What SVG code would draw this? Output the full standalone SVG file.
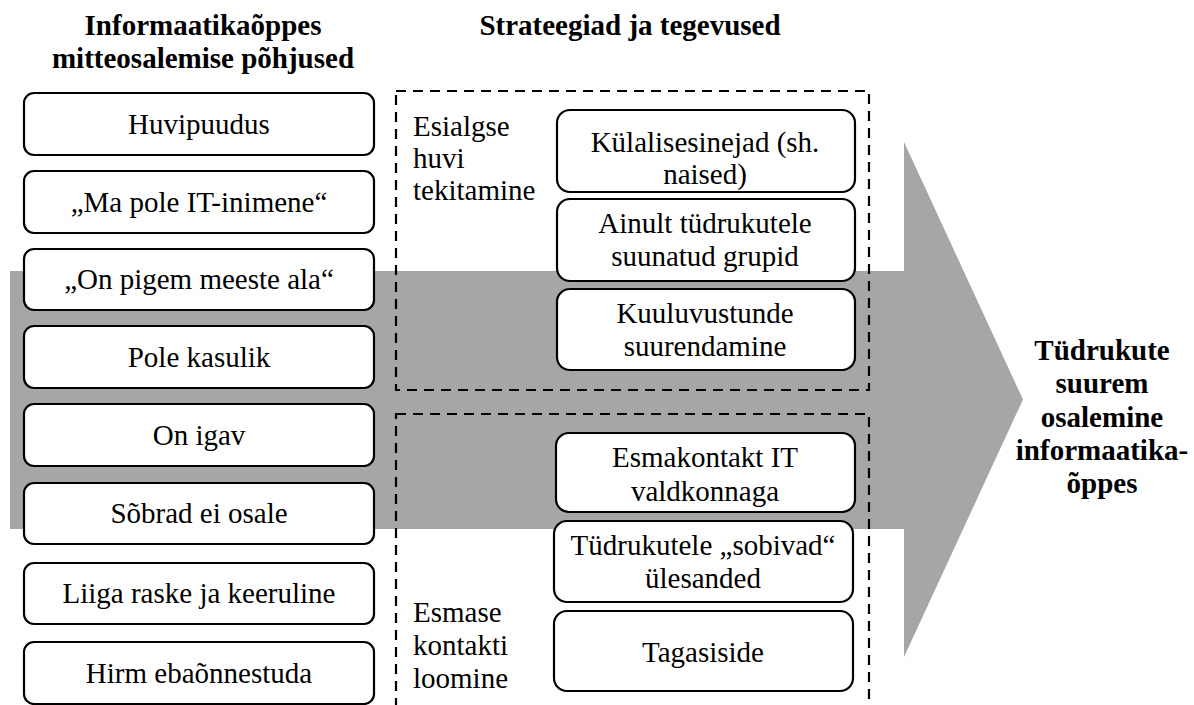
<svg xmlns="http://www.w3.org/2000/svg" width="1194" height="705" viewBox="0 0 1194 705" font-family="'Liberation Serif', Tinos, 'Times New Roman', 'DejaVu Serif', serif">
<style>
text{font-family:'Liberation Serif',Tinos,'Times New Roman','DejaVu Serif',serif;font-size:29px;fill:#000}
.h{font-weight:bold;text-anchor:middle}
.c{text-anchor:middle}
.box{fill:#fff;stroke:#000;stroke-width:2.2}
.dash{fill:none;stroke:#000;stroke-width:2.2;stroke-dasharray:10 7}
</style>
<rect width="1194" height="705" fill="#fff"/>
<g id="connectors">
<polygon points="10,271 904,271 904,142 1023,399.5 904,657 904,529 10,529" fill="#a6a6a6"/>
</g>
<g id="headers">
<text class="h" x="203" y="35">Informaatikaõppes</text>
<text class="h" x="203" y="68">mitteosalemise põhjused</text>
<text class="h" x="630" y="35">Strateegiad ja tegevused</text>
</g>
<g id="group-esialgse">
<rect class="dash" x="396" y="91" width="473" height="299"/>
<text x="413" y="136">Esialgse</text>
<text x="413" y="168">huvi</text>
<text x="413" y="200">tekitamine</text>
</g>
<g id="group-esmase">
<rect class="dash" x="396" y="414" width="473" height="320"/>
<text x="413" y="622">Esmase</text>
<text x="413" y="655">kontakti</text>
<text x="413" y="688">loomine</text>
</g>
<g id="r1"><rect class="box" x="24" y="93" width="350" height="62" rx="10"/><text class="c" x="199" y="134">Huvipuudus</text></g>
<g id="r2"><rect class="box" x="24" y="171" width="350" height="62" rx="10"/><text class="c" x="199" y="212">„Ma pole IT-inimene“</text></g>
<g id="r3"><rect class="box" x="24" y="249" width="350" height="61" rx="10"/><text class="c" x="199" y="289">„On pigem meeste ala“</text></g>
<g id="r4"><rect class="box" x="24" y="326" width="350" height="62" rx="10"/><text class="c" x="199" y="367">Pole kasulik</text></g>
<g id="r5"><rect class="box" x="24" y="404" width="350" height="62" rx="10"/><text class="c" x="199" y="445">On igav</text></g>
<g id="r6"><rect class="box" x="24" y="483" width="350" height="61" rx="10"/><text class="c" x="199" y="523">Sõbrad ei osale</text></g>
<g id="r7"><rect class="box" x="24" y="563" width="350" height="61" rx="10"/><text class="c" x="199" y="603">Liiga raske ja keeruline</text></g>
<g id="r8"><rect class="box" x="24" y="642" width="350" height="62" rx="10"/><text class="c" x="199" y="683">Hirm ebaõnnestuda</text></g>
<g id="s1"><rect class="box" x="557" y="110" width="298" height="82" rx="13"/><text class="c" x="705" y="152">Külalisesinejad (sh.</text><text class="c" x="705" y="184">naised)</text></g>
<g id="s2"><rect class="box" x="557" y="199" width="298" height="82" rx="13"/><text class="c" x="705" y="233">Ainult tüdrukutele</text><text class="c" x="705" y="266">suunatud grupid</text></g>
<g id="s3"><rect class="box" x="557" y="289" width="298" height="81" rx="13"/><text class="c" x="705" y="323">Kuuluvustunde</text><text class="c" x="705" y="356">suurendamine</text></g>
<g id="s4"><rect class="box" x="556" y="433" width="299" height="79" rx="13"/><text class="c" x="705" y="467">Esmakontakt IT</text><text class="c" x="705" y="501">valdkonnaga</text></g>
<g id="s5"><rect class="box" x="554" y="521" width="299" height="81" rx="13"/><text class="c" x="703" y="555">Tüdrukutele „sobivad“</text><text class="c" x="703" y="588">ülesanded</text></g>
<g id="s6"><rect class="box" x="554" y="611" width="299" height="80" rx="13"/><text class="c" x="703" y="662">Tagasiside</text></g>
<g id="goal">
<text class="h" x="1102" y="360">Tüdrukute</text>
<text class="h" x="1102" y="393">suurem</text>
<text class="h" x="1102" y="427">osalemine</text>
<text class="h" x="1102" y="460">informaatika-</text>
<text class="h" x="1102" y="493">õppes</text>
</g>
</svg>
